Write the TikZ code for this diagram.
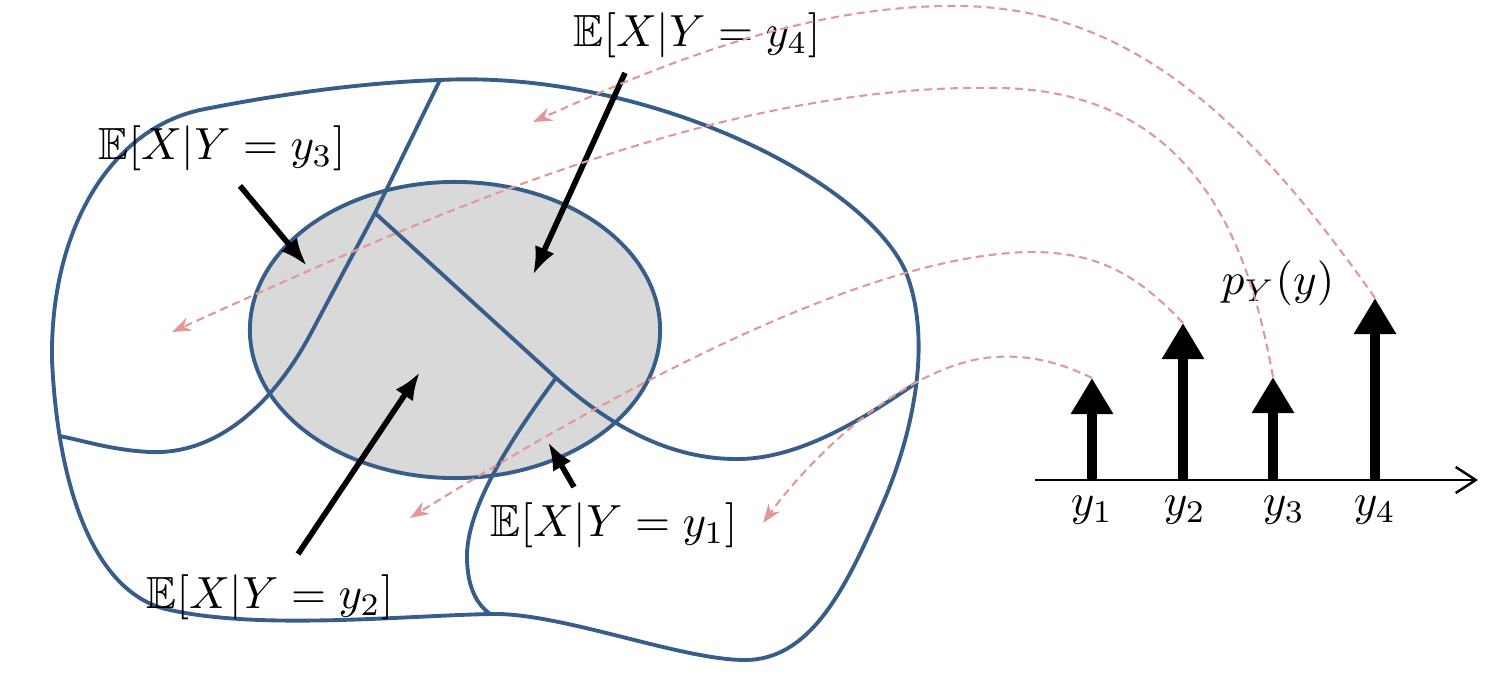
\documentclass[tikz,border=0pt]{standalone}
\usepackage{amsmath,amssymb}
\usetikzlibrary{arrows.meta,calc}

\definecolor{regionblue}{RGB}{56,93,138}
\definecolor{shadegray}{RGB}{217,217,217}
\definecolor{mappink}{RGB}{224,152,152}

\begin{document}
\begin{tikzpicture}[x=0.01cm,y=-0.01cm,
  region/.style={regionblue,line width=1.1pt,line join=round},
  ptr/.style={-{Latex[length=2.8mm,width=2.1mm]},line width=1.6pt},
  mapto/.style={mappink,dash pattern=on 0.8mm off 0.5mm,line width=0.6pt,-{Stealth[length=1.9mm,width=1.4mm]}},
  stem/.style={line width=2.8pt,-{Triangle[length=3.6mm,width=4mm]}},
  lbl/.style={scale=1.28,inner sep=1pt}]
  \useasboundingbox (0,0) rectangle (1502,676);

  % the sample space and its partition
  \draw[region,fill=shadegray] (455,330) ellipse [x radius=2.05cm, y radius=1.48cm];
  \draw[region] (440,80) .. controls (640,70) and (860,175) .. (905,270)
    .. controls (930,330) and (920,420) .. (880,510)
    .. controls (845,590) and (810,660) .. (745,660)
    .. controls (680,660) and (560,612) .. (490,614)
    .. controls (400,616) and (260,630) .. (170,610)
    .. controls (95,595) and (58,490) .. (52,360)
    .. controls (50,230) and (110,130) .. (200,110)
    .. controls (300,90) and (380,82) .. cycle;
  \draw[region] (440,80) -- (375,213) -- (310,335)
    .. controls (275,400) and (220,455) .. (150,452)
    .. controls (110,450) and (82,440) .. (59,436);
  \draw[region] (375,213) -- (556,378)
    .. controls (620,435) and (680,460) .. (740,459)
    .. controls (800,458) and (862,420) .. (916,383);
  \draw[region] (556,378) .. controls (510,440) and (465,510) .. (467,560)
    .. controls (468,590) and (478,605) .. (490,614);

  % labels and pointers
  \node[lbl] (E3) at (222,148) {$\mathbb{E}[X|Y=y_3]$};
  \node[lbl] (E4) at (697,35) {$\mathbb{E}[X|Y=y_4]$};
  \node[lbl] (E2) at (270,597) {$\mathbb{E}[X|Y=y_2]$};
  \node[lbl] (E1) at (614,525) {$\mathbb{E}[X|Y=y_1]$};
  \coordinate (a3) at (307,266);
  \coordinate (a4) at (533,275);
  \coordinate (a2) at (420,372);
  \coordinate (a1) at (548,442);
  \draw[ptr] ([xshift=0.18cm,yshift=-0.1cm]E3.south) -- (a3);
  \draw[ptr] ([xshift=-0.72cm,yshift=-0.1cm]E4.south) -- (a4);
  \draw[ptr] ([xshift=0.28cm,yshift=0.15cm]E2.north) -- (a2);
  \draw[ptr] ([xshift=-0.4cm,yshift=0.1cm]E1.north) -- (a1);

  % the pmf of Y
  \coordinate (ax0) at (1035,480);
  \coordinate (ax1) at (1478,480);
  \draw[line width=0.7pt,-{Straight Barb[length=2mm,width=2.6mm]}] (ax0) -- (ax1);
  \foreach \k/\x/\tip/\lx in {1/1092/378/1092, 2/1183/323/1185, 3/1273/377/1284, 4/1375/298/1375} {
    \coordinate (b\k) at (\x,480);
    \coordinate (t\k) at (\x,\tip);
    \draw[stem] (b\k) -- (t\k);
    \node[lbl] (y\k) at (\lx,510) {$y_{\k}$};
  }
  \node[lbl] (pY) at (1278,283) {$p_Y(y)$};

  % each value of Y mapped back to its region
  \coordinate (e4) at (533,122);
  \coordinate (e3) at (172,332);
  \coordinate (e2) at (410,518);
  \coordinate (e1) at (763,523);
  \draw[mapto] (t4) .. controls (1250,120) and (1130,8) .. (960,6)
    .. controls (800,4) and (650,70) .. (e4);
  \draw[mapto] (t3) .. controls (1250,250) and (1200,92) .. (1000,88)
    .. controls (720,82) and (420,220) .. (e3);
  \draw[mapto] (t2) .. controls (1135,272) and (1095,252) .. (1030,252)
    .. controls (860,255) and (600,400) .. (e2);
  \draw[mapto] (t1) .. controls (1055,360) and (1025,355) .. (995,357)
    .. controls (915,362) and (820,445) .. (e1);
\end{tikzpicture}
\end{document}
